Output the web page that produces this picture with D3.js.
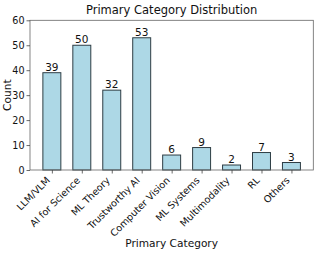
<!DOCTYPE html>
<html>
<head>
<meta charset="utf-8" />
<script src="https://d3js.org/d3.v7.min.js"></script>
<style>
  body { margin: 0; background: #fff; }
  text { font-family: "DejaVu Sans", sans-serif; fill: #111; }
</style>
</head>
<body>
<svg id="chart" width="317" height="253"></svg>
<script>

// data
var categories = ["LLM/VLM", "AI for Science", "ML Theory", "Trustworthy AI", "Computer Vision",
                  "ML Systems", "Multimodality", "RL", "Others"];
var counts = [39, 50, 32, 53, 6, 9, 2, 7, 3];
var yTicks = [0, 10, 20, 30, 40, 50, 60];

var svg = d3.select("#chart");
var plotLeft = 30, plotRight = 313.3, plotTop = 20.3, plotBottom = 170;

// x: bar centres, bars 0.6 wide like matplotlib
var x = d3.scaleLinear().domain([-0.73, categories.length - 1 + 0.73]).range([plotLeft, plotRight]);
var y = d3.scaleLinear().domain([0, 60]).range([plotBottom, plotTop]);
var barW = x(0.6) - x(0);

// bars
svg.append("g")
  .selectAll("rect")
  .data(counts)
  .enter()
  .append("rect")
  .attr("x", function(d, i) { return x(i) - barW / 2; })
  .attr("y", function(d) { return y(d); })
  .attr("width", barW)
  .attr("height", function(d) { return y(0) - y(d); })
  .attr("fill", "#add8e6")
  .attr("stroke", "#2e3d44")
  .attr("stroke-width", 1);

// value labels
svg.append("g")
  .selectAll("text")
  .data(counts)
  .enter()
  .append("text")
  .attr("x", function(d, i) { return x(i); })
  .attr("y", function(d) { return y(d) - 2; })
  .attr("text-anchor", "middle")
  .style("font-size", "10.5px")
  .text(function(d) { return d; });

// frame
svg.append("rect")
  .attr("x", plotLeft).attr("y", plotTop)
  .attr("width", plotRight - plotLeft).attr("height", plotBottom - plotTop)
  .attr("fill", "none")
  .attr("stroke", "#666")
  .attr("stroke-width", 0.8);

// y axis
var yAxis = d3.axisLeft(y).tickValues(yTicks).tickSize(3.5).tickPadding(2);
var gy = svg.append("g").attr("transform", "translate(" + plotLeft + ",0)").call(yAxis);
gy.select(".domain").remove();
gy.selectAll("line").attr("stroke", "#444").attr("stroke-width", 0.8);
gy.selectAll("text").style("font-size", "9.6px").style("font-family", "DejaVu Sans").attr("fill", "#111");

// x axis
var xAxis = d3.axisBottom(x).tickValues(d3.range(categories.length)).tickSize(3.5).tickFormat("");
var gx = svg.append("g").attr("transform", "translate(0," + plotBottom + ")").call(xAxis);
gx.select(".domain").remove();
gx.selectAll("line").attr("stroke", "#444").attr("stroke-width", 0.8);

// rotated category labels, ha=right
svg.append("g")
  .selectAll("text")
  .data(categories)
  .enter()
  .append("text")
  .attr("transform", function(d, i) { return "translate(" + (x(i) - 1.2) + "," + (plotBottom + 11) + ") rotate(-45)"; })
  .attr("text-anchor", "end")
  .style("font-size", "9.6px")
  .text(function(d) { return d; });

// title and axis labels
svg.append("text")
  .attr("x", (plotLeft + plotRight) / 2).attr("y", 14)
  .attr("text-anchor", "middle")
  .style("font-size", "11.5px")
  .text("Primary Category Distribution");

svg.append("text")
  .attr("x", (plotLeft + plotRight) / 2).attr("y", 247)
  .attr("text-anchor", "middle")
  .style("font-size", "10.6px")
  .text("Primary Category");

svg.append("text")
  .attr("transform", "translate(11," + (plotTop + plotBottom) / 2 + ") rotate(-90)")
  .attr("text-anchor", "middle")
  .style("font-size", "10.6px")
  .text("Count");

</script>
</body>
</html>
